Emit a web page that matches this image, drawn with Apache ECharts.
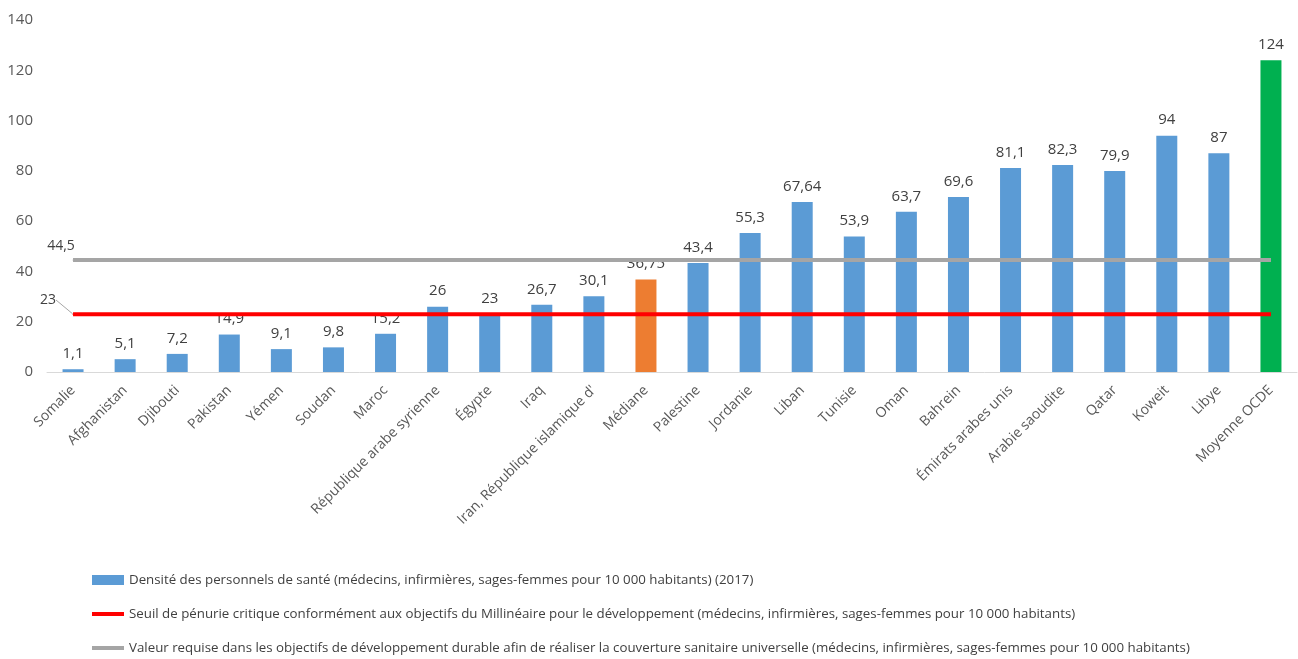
<!DOCTYPE html>
<html>
	<head>
		<meta charset="utf-8">
		<title>Densité des personnels de santé</title>
		<script src="https://cdn.jsdelivr.net/npm/echarts@6/dist/echarts.min.js"></script>
	</head>
	<body style="margin:0">
		<div id="box" style="width: 1298px;height: 659px;"></div>
		<script>
			var pays = ['Somalie', 'Afghanistan', 'Djibouti', 'Pakistan', 'Yémen', 'Soudan', 'Maroc',
				'République arabe syrienne', 'Égypte', 'Iraq', 'Iran, République islamique d\'', 'Médiane',
				'Palestine', 'Jordanie', 'Liban', 'Tunisie', 'Oman', 'Bahrein', 'Émirats arabes unis',
				'Arabie saoudite', 'Qatar', 'Koweit', 'Libye', 'Moyenne OCDE']
			var densite = [1.1, 5.1, 7.2, 14.9, 9.1, 9.8, 15.2, 26, 23, 26.7, 30.1, 36.75,
				43.4, 55.3, 67.64, 53.9, 63.7, 69.6, 81.1, 82.3, 79.9, 94, 87, 124]
			var seuilCritique = 23
			var valeurRequise = 44.5

			var nomBarre = 'Densité des personnels de santé (médecins, infirmières, sages-femmes pour 10 000 habitants) (2017)'
			var nomSeuil = 'Seuil de pénurie critique conformément aux objectifs du Millinéaire pour le développement (médecins, infirmières, sages-femmes pour 10 000 habitants)'
			var nomRequise = 'Valeur requise dans les objectifs de développement durable afin de réaliser la couverture sanitaire universelle (médecins, infirmières, sages-femmes pour 10 000 habitants)'

			var police = '"Open Sans", sans-serif'
			function virgule(v) { return String(v).replace('.', ',') }

			var barData = densite.map(function (v, i) {
				var c = '#5B9BD5'
				if (pays[i] === 'Médiane') c = '#ED7D31'
				if (pays[i] === 'Moyenne OCDE') c = '#00B050'
				return { value: v, itemStyle: { color: c } }
			})
			// seul le premier point porte une étiquette
			function ligne(val) {
				return pays.map(function (p, i) {
					return i === 0 ? { value: val } : { value: val, symbol: 'none', label: { show: false } }
				})
			}

			var mCharts = echarts.init(document.querySelector('#box'))
			var option = {
				textStyle: { fontFamily: police },
				animation: false,
				grid: { left: 47, right: 1, top: 20, bottom: 287, containLabel: false },
				legend: {
					orient: 'vertical',
					left: 92,
					top: 571,
					padding: 0,
					itemWidth: 32,
					itemHeight: 10,
					itemGap: 16,
					textStyle: { fontSize: 13.3, lineHeight: 18, color: '#404040', fontFamily: police },
					data: [
						{ name: nomBarre, icon: 'rect' },
						{ name: nomSeuil, icon: 'path://M0,0H32V4H0Z', itemStyle: { color: '#FF0000' } },
						{ name: nomRequise, icon: 'path://M0,0H32V4H0Z', itemStyle: { color: '#A5A5A5' } }
					]
				},
				xAxis: {
					type: 'category',
					data: pays,
					axisLine: { lineStyle: { color: '#D9D9D9' } },
					axisTick: { show: false },
					axisLabel: { rotate: 45, interval: 0, color: '#595959', fontSize: 14, margin: 16 }
				},
				yAxis: {
					type: 'value',
					min: 0,
					max: 140,
					interval: 20,
					splitLine: { show: false },
					axisLine: { show: false },
					axisLabel: { color: '#595959', fontSize: 15, margin: 14 }
				},
				series: [
					{
						name: nomBarre,
						type: 'bar',
						data: barData,
						barWidth: 21,
						itemStyle: { color: '#5B9BD5' },
						label: {
							show: true,
							position: 'top',
							distance: 8,
							color: '#404040',
							fontSize: 15,
							formatter: function (p) { return virgule(p.value) }
						}
					},
					{
						name: nomSeuil,
						type: 'line',
						data: ligne(seuilCritique),
						symbol: 'circle',
						symbolSize: 1,
						showAllSymbol: true,
						itemStyle: { color: '#FF0000' },
						lineStyle: { color: '#FF0000', width: 4 },
						label: {
							show: true,
							fontSize: 14,
							color: '#404040',
							formatter: function (p) { return virgule(p.value) }
						},
						labelLayout: function (p) {
							if (p.dataIndex !== 0) return {}
							return { x: 48, y: 300, align: 'center', verticalAlign: 'middle' }
						},
						labelLine: { show: true, lineStyle: { color: '#A6A6A6', width: 1 } }
					},
					{
						name: nomRequise,
						type: 'line',
						data: ligne(valeurRequise),
						symbol: 'circle',
						symbolSize: 1,
						showAllSymbol: true,
						itemStyle: { color: '#A5A5A5' },
						lineStyle: { color: '#A5A5A5', width: 4 },
						label: {
							show: true,
							fontSize: 14,
							color: '#404040',
							position: 'top',
							offset: [-12, -2],
							formatter: function (p) { return virgule(p.value) }
						}
					}
				]
			}
			mCharts.setOption(option)
		</script>
	</body>
</html>
